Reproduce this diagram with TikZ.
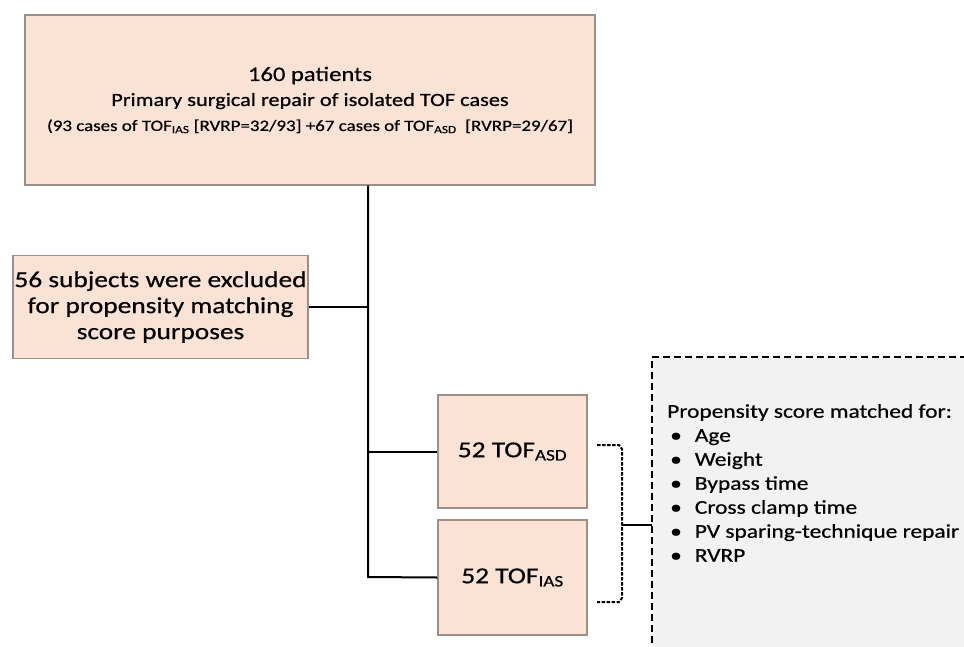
\documentclass[tikz,border=0pt]{standalone}
\usepackage{fontspec}
\setmainfont[FakeStretch=1.2,FakeBold=0.6]{Carlito}
\definecolor{peach}{HTML}{FAE3D4}
\definecolor{peachline}{HTML}{9C8F87}
\definecolor{lightgray}{HTML}{F2F2F2}
\begin{document}
\begin{tikzpicture}[x=1pt,y=-1pt,
  box/.style={draw=peachline,line width=1.2pt,fill=peach,inner sep=0pt,align=center,text=black},
  conn/.style={line width=2pt,black},
  bracel/.style={line width=2pt,dash pattern=on 3.5pt off 1.5pt,black}]
\clip (0,0) rectangle (964,646);
\useasboundingbox (0,0) rectangle (964,646);
\fill[white] (0,0) rectangle (964,646);
% dashed info box
\path[fill=lightgray] (652,357) rectangle (1000,700);
\draw[line width=2pt,dash pattern=on 7pt off 4pt] (1000,357) -- (652,357) -- (652,700);
\node[minimum width=348pt,minimum height=343pt,inner sep=0pt] (pbox) at (826,528.5) {};
\node[anchor=north west,align=left,inner sep=0pt,font=\fontsize{19.5}{24}\selectfont] (ptext) at (667,404)
 {Propensity score matched for:\\
  \hspace*{3pt}\textbullet\hspace{13pt}Age\\
  \hspace*{3pt}\textbullet\hspace{13pt}Weight\\
  \hspace*{3pt}\textbullet\hspace{13pt}Bypass time\\
  \hspace*{3pt}\textbullet\hspace{13pt}Cross clamp time\\
  \hspace*{3pt}\textbullet\hspace{13pt}PV sparing-technique repair\\
  \hspace*{3pt}\textbullet\hspace{13pt}RVRP};
% boxes
\node[box,minimum width=570pt,minimum height=170pt,font=\fontsize{20.5}{25}\selectfont] (top) at (310,100)
 {\rule{0pt}{8pt}160 patients\\
  {\fontsize{18.6}{25}\selectfont Primary surgical repair of isolated TOF cases}\\
  {\fontsize{15.8}{25}\selectfont (93 cases of TOF\textsubscript{IAS} [RVRP=32/93] +67 cases of TOF\textsubscript{ASD}\ \ [RVRP=29/67]}};
\node[box,minimum width=295pt,minimum height=103pt,font=\fontsize{22.8}{26}\selectfont] (left) at (160.5,307)
 {56 subjects were excluded\\ for propensity matching\\ score purposes};
\node[box,minimum width=149pt,minimum height=113pt,font=\fontsize{22.8}{28}\selectfont] (asd) at (512.5,451.5)
 {52 TOF\textsubscript{ASD}};
\node[box,minimum width=149pt,minimum height=115pt,font=\fontsize{22.8}{28}\selectfont] (ias) at (512.5,577.5)
 {52 TOF\textsubscript{IAS}};
% connectors
\coordinate (jIAS) at (368,577);
\draw[conn] (top.south -| jIAS) -- (jIAS) -- (ias.west);
\draw[conn] (left.east) -- (left.east -| jIAS);
\draw[conn] (asd.west) -- (asd.west -| jIAS);
% brace
\coordinate (bt) at (597,445);
\coordinate (bb) at (597,602);
\coordinate (bm) at (622,525);
\draw[bracel] (bt) -- (619,445) -- (622,449) -- (622,598) -- (619,602) -- (bb);
\draw[line width=2pt] (bm) -- (bm -| pbox.west);
\end{tikzpicture}
\end{document}
